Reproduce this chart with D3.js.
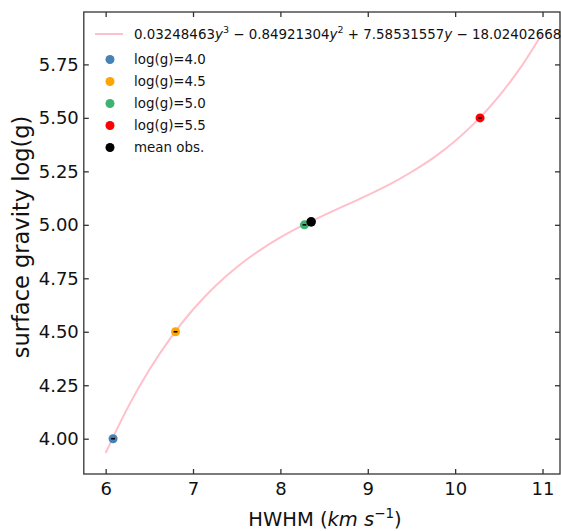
<!DOCTYPE html>
<html>
<head>
<meta charset="utf-8">
<script src="https://cdn.jsdelivr.net/npm/d3@7"></script>
<style>
  body { margin: 0; background: #fff; }
  svg { display: block; font-family: "DejaVu Sans", sans-serif; }
</style>
</head>
<body>
<svg id="chart" width="561" height="531"></svg>
<script>
// log(g) vs HWHM with cubic fit

// fitted curve
const curveHWHM = [6.0, 6.25, 6.5, 6.75, 7.0, 7.25, 7.5, 7.75, 8.0, 8.25, 8.5,
                   8.75, 9.0, 9.25, 9.5, 9.75, 10.0, 10.25, 10.5, 10.75, 11.0];
const curveLogg = [3.933, 4.143, 4.322, 4.475, 4.604, 4.712, 4.802, 4.877, 4.941, 4.996, 5.045,
                   5.092, 5.139, 5.189, 5.247, 5.313, 5.392, 5.487, 5.601, 5.736, 5.897];
const fitCoeffs = ["0.03248463", "0.84921304", "7.58531557", "18.02402668"];

// model grid points
const gridLabels = ["log(g)=4.0", "log(g)=4.5", "log(g)=5.0", "log(g)=5.5"];
const gridHWHM = [6.085, 6.80, 8.275, 10.285];
const gridLogg = [4.0, 4.5, 5.0, 5.5];
const gridErr = [0.022, 0.022, 0.022, 0.022];
const gridColors = ["steelblue", "orange", "mediumseagreen", "red"];

// observed mean
const meanLabel = "mean obs.";
const meanHWHM = 8.352;
const meanLogg = 5.014;

const xTicks = [6, 7, 8, 9, 10, 11];
const yTicks = [4.00, 4.25, 4.50, 4.75, 5.00, 5.25, 5.50, 5.75];

const svg = d3.select("#chart");
const plotL = 83.8, plotR = 560, plotT = 12, plotB = 474;

const x = d3.scaleLinear().domain([5.75, 11.2]).range([plotL, plotR]);
const y = d3.scaleLinear().domain([3.835, 5.995]).range([plotB, plotT]);

const axisColor = "#333";

// axes, ticks pointing inward on all four sides
function styleAxis(g) {
  g.select(".domain").remove();
  g.selectAll(".tick line").attr("stroke", axisColor).attr("stroke-width", 1.3);
  g.selectAll(".tick text").attr("fill", "#111").style("font-size", "18px")
    .style("font-family", "DejaVu Sans");
}

svg.append("g")
  .attr("transform", `translate(0,${plotB})`)
  .call(d3.axisBottom(x).tickValues(xTicks).tickSizeInner(-5).tickSizeOuter(0)
    .tickPadding(8).tickFormat(d3.format("d")))
  .call(styleAxis);

svg.append("g")
  .attr("transform", `translate(0,${plotT})`)
  .call(d3.axisTop(x).tickValues(xTicks).tickSizeInner(-5).tickSizeOuter(0).tickFormat(""))
  .call(styleAxis);

svg.append("g")
  .attr("transform", `translate(${plotL},0)`)
  .call(d3.axisLeft(y).tickValues(yTicks).tickSizeInner(-5).tickSizeOuter(0)
    .tickPadding(5).tickFormat(d3.format(".2f")))
  .call(styleAxis);

svg.append("g")
  .attr("transform", `translate(${plotR},0)`)
  .call(d3.axisRight(y).tickValues(yTicks).tickSizeInner(-5).tickSizeOuter(0).tickFormat(""))
  .call(styleAxis);

// frame
svg.append("rect")
  .attr("x", plotL).attr("y", plotT)
  .attr("width", plotR - plotL).attr("height", plotB - plotT)
  .attr("fill", "none").attr("stroke", axisColor).attr("stroke-width", 1.3);

// axis labels
const xl = svg.append("text")
  .attr("x", 325).attr("y", 526)
  .attr("text-anchor", "middle")
  .style("font-size", "19.5px").attr("fill", "#111");
xl.append("tspan").text("HWHM (");
xl.append("tspan").attr("font-style", "italic").text("km s");
xl.append("tspan").attr("font-size", "13.5px").attr("dy", -8).text("\u22121");
xl.append("tspan").attr("dy", 8).text(")");

svg.append("text")
  .attr("transform", `translate(29,237) rotate(-90)`)
  .attr("text-anchor", "middle")
  .style("font-size", "22.5px").attr("fill", "#111")
  .text("surface gravity log(g)");

// fit curve
const line = d3.line()
  .x(d => x(d[0]))
  .y(d => y(d[1]))
  .curve(d3.curveCatmullRom);

svg.append("path")
  .datum(curveHWHM.map((v, i) => [v, curveLogg[i]]))
  .attr("d", line)
  .attr("fill", "none")
  .attr("stroke", "pink")
  .attr("stroke-width", 2);

// grid points with error bars
gridHWHM.forEach((hw, i) => {
  svg.append("circle")
    .attr("cx", x(hw)).attr("cy", y(gridLogg[i]))
    .attr("r", 4.5).attr("fill", gridColors[i]);
  svg.append("line")
    .attr("x1", x(hw - gridErr[i])).attr("x2", x(hw + gridErr[i]))
    .attr("y1", y(gridLogg[i])).attr("y2", y(gridLogg[i]))
    .attr("stroke", "black").attr("stroke-width", 1.6);
});

svg.append("circle")
  .attr("cx", x(meanHWHM)).attr("cy", y(meanLogg))
  .attr("r", 4.8).attr("fill", "black");

// legend
const legFont = "13.4px";
const lg = svg.append("g");
lg.append("line")
  .attr("x1", 95).attr("x2", 123).attr("y1", 34).attr("y2", 34)
  .attr("stroke", "pink").attr("stroke-width", 2);

const ft = lg.append("text").attr("x", 134).attr("y", 38.5)
  .style("font-size", legFont).attr("fill", "#111");
ft.append("tspan").text(fitCoeffs[0]);
ft.append("tspan").attr("font-style", "italic").text("y");
ft.append("tspan").attr("font-size", "9.5px").attr("dy", -6).text("3");
ft.append("tspan").attr("dy", 6).text(" \u2212 " + fitCoeffs[1]);
ft.append("tspan").attr("font-style", "italic").text("y");
ft.append("tspan").attr("font-size", "9.5px").attr("dy", -6).text("2");
ft.append("tspan").attr("dy", 6).text(" + " + fitCoeffs[2]);
ft.append("tspan").attr("font-style", "italic").text("y");
ft.append("tspan").text(" \u2212 " + fitCoeffs[3]);

const legItems = gridLabels.map((l, i) => ({ label: l, color: gridColors[i] }))
  .concat([{ label: meanLabel, color: "black" }]);

legItems.forEach((d, i) => {
  const cy = 59.5 + i * 22;
  lg.append("circle").attr("cx", 110).attr("cy", cy).attr("r", 4.5).attr("fill", d.color);
  lg.append("text").attr("x", 134).attr("y", cy + 4.8)
    .style("font-size", legFont).attr("fill", "#111").text(d.label);
});
</script>
</body>
</html>
